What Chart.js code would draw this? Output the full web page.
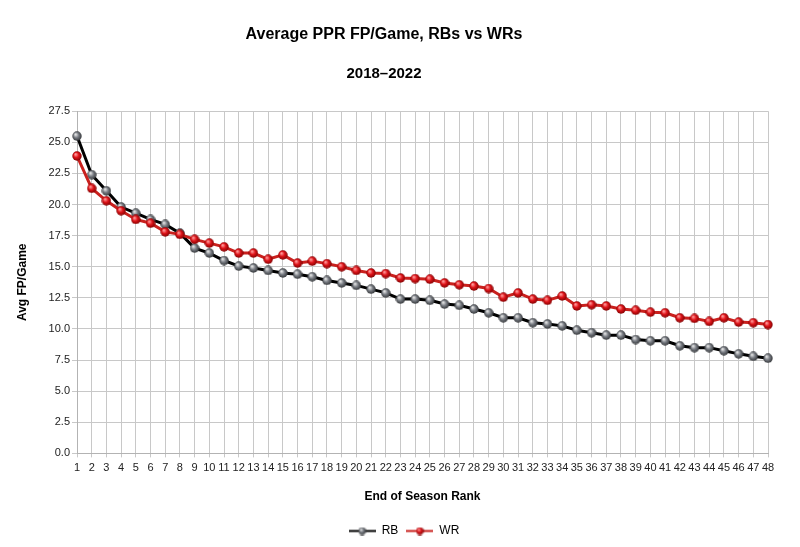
<!DOCTYPE html>
<html>
<head>
<meta charset="utf-8">
<title>Average PPR FP/Game, RBs vs WRs</title>
<script src="https://cdn.jsdelivr.net/npm/chart.js@4.4.1/dist/chart.umd.min.js"></script>
<style>
  html, body { margin: 0; padding: 0; background: #fff; }
  #chart { display: block; }
</style>
</head>
<body>
<canvas id="chart" width="800" height="547"></canvas>
<script>
// end of season rank 1..48
var ranks = [];
for (var r = 1; r <= 48; r++) ranks.push(String(r));

// average PPR fantasy points per game, 2018-2022
var rbValues = [
    25.5, 22.4, 21.1, 19.8, 19.3, 18.8, 18.4, 17.7, 16.5, 16.1,
    15.5, 15.05, 14.9, 14.7, 14.5, 14.4, 14.2, 13.9, 13.7, 13.5,
    13.2, 12.9, 12.4, 12.4, 12.3, 12.0, 11.9, 11.6, 11.3, 10.9,
    10.9, 10.5, 10.4, 10.25, 9.9, 9.7, 9.5, 9.5, 9.15, 9.05,
    9.05, 8.65, 8.5, 8.5, 8.25, 8.0, 7.8, 7.65
];
var wrValues = [
    23.9, 21.3, 20.3, 19.5, 18.8, 18.5, 17.8, 17.6, 17.2, 16.9,
    16.6, 16.1, 16.1, 15.6, 15.95, 15.3, 15.45, 15.25, 15.0, 14.7,
    14.5, 14.45, 14.1, 14.05, 14.0, 13.7, 13.55, 13.45, 13.25, 12.55,
    12.9, 12.4, 12.3, 12.65, 11.85, 11.95, 11.85, 11.6, 11.5, 11.35,
    11.3, 10.9, 10.85, 10.6, 10.9, 10.55, 10.5, 10.35
];

var FONT = "'Liberation Sans', Arial, sans-serif";

// little shaded ball used as point marker
function makeBall(d, light, mid, dark) {
    var c = document.createElement('canvas');
    c.width = d; c.height = d;
    var g = c.getContext('2d');
    var r = d / 2;
    var grad = g.createRadialGradient(r * 0.7, r * 0.65, r * 0.1, r, r, r);
    grad.addColorStop(0, light);
    grad.addColorStop(0.45, mid);
    grad.addColorStop(1, dark);
    g.fillStyle = grad;
    g.beginPath();
    g.arc(r, r, r - 0.3, 0, Math.PI * 2);
    g.fill();
    return c;
}

// legend sample: a short line with a ball in the middle
function makeLegendMark(w, h, lineColor, ball) {
    var c = document.createElement('canvas');
    c.width = w; c.height = h;
    var g = c.getContext('2d');
    g.strokeStyle = lineColor;
    g.lineWidth = 2;
    g.beginPath();
    g.moveTo(0, h / 2);
    g.lineTo(w, h / 2);
    g.stroke();
    g.drawImage(ball, (w - ball.width) / 2, (h - ball.height) / 2);
    return c;
}

var rbBall = makeBall(10, '#e6e6e6', '#7b7f86', '#2e3033');
var wrBall = makeBall(10, '#ff9a9a', '#e0141a', '#7a0000');
var rbLegend = makeLegendMark(27, 9, '#000000', makeBall(8, '#e6e6e6', '#7b7f86', '#2e3033'));
var wrLegend = makeLegendMark(27, 9, '#c9211e', makeBall(8, '#ff9a9a', '#e0141a', '#7a0000'));

// legend sits a bit right of the page centre in the original
var legendShift = {
    id: 'legendShift',
    afterLayout: function (chart) {
        if (chart.legend) chart.legend.left = 40;
    }
};

var ctx = document.getElementById('chart').getContext('2d');
new Chart(ctx, {
    type: 'line',
    data: {
        labels: ranks,
        datasets: [{
            label: 'RB',
            data: rbValues,
            borderColor: '#000000',
            borderWidth: 3,
            pointStyle: rbBall,
            order: 1
        }, {
            label: 'WR',
            data: wrValues,
            borderColor: '#c9211e',
            borderWidth: 3,
            pointStyle: wrBall,
            order: 0
        }]
    },
    plugins: [legendShift],
    options: {
        responsive: false,
        animation: false,
        layout: {
            padding: { left: 0, right: 32, top: 0, bottom: 0 }
        },
        elements: {
            line: { tension: 0 }
        },
        plugins: {
            title: {
                display: true,
                text: 'Average PPR FP/Game, RBs vs WRs',
                color: '#000',
                font: { family: FONT, size: 16, weight: 'bold' },
                padding: { top: 25, bottom: 21 }
            },
            subtitle: {
                display: true,
                text: '2018\u20132022',
                color: '#000',
                font: { family: FONT, size: 15, weight: 'bold' },
                padding: { top: 0, bottom: 28 }
            },
            legend: {
                position: 'bottom',
                labels: {
                    usePointStyle: true,
                    pointStyleWidth: 27,
                    padding: 8,
                    color: '#000',
                    font: { family: FONT, size: 12 },
                    sort: function (a, b) { return a.datasetIndex - b.datasetIndex; },
                    generateLabels: function (chart) {
                        var items = Chart.defaults.plugins.legend.labels.generateLabels(chart);
                        items.forEach(function (it) {
                            it.pointStyle = it.datasetIndex === 0 ? rbLegend : wrLegend;
                        });
                        return items;
                    }
                }
            },
            tooltip: { enabled: false }
        },
        scales: {
            x: {
                offset: false,
                grid: { color: '#c8c8c8', tickLength: 4, offset: false },
                border: { color: '#b3b3b3' },
                ticks: {
                    autoSkip: false,
                    maxRotation: 0,
                    padding: 4,
                    color: '#222',
                    font: { family: FONT, size: 11 }
                },
                title: {
                    display: true,
                    text: 'End of Season Rank',
                    color: '#000',
                    font: { family: FONT, size: 12, weight: 'bold' },
                    padding: { top: 11, bottom: 13 }
                }
            },
            y: {
                min: 0,
                max: 27.5,
                grid: { color: '#c8c8c8', tickLength: 5 },
                border: { color: '#b3b3b3' },
                ticks: {
                    stepSize: 2.5,
                    padding: 2,
                    color: '#222',
                    font: { family: FONT, size: 11 },
                    callback: function (v) { return v.toFixed(1); }
                },
                title: {
                    display: true,
                    text: 'Avg FP/Game',
                    color: '#000',
                    font: { family: FONT, size: 12, weight: 'bold' },
                    padding: { top: 15, bottom: 0 }
                },
                afterFit: function (scale) { scale.width = 77; }
            }
        }
    }
});
</script>
</body>
</html>
